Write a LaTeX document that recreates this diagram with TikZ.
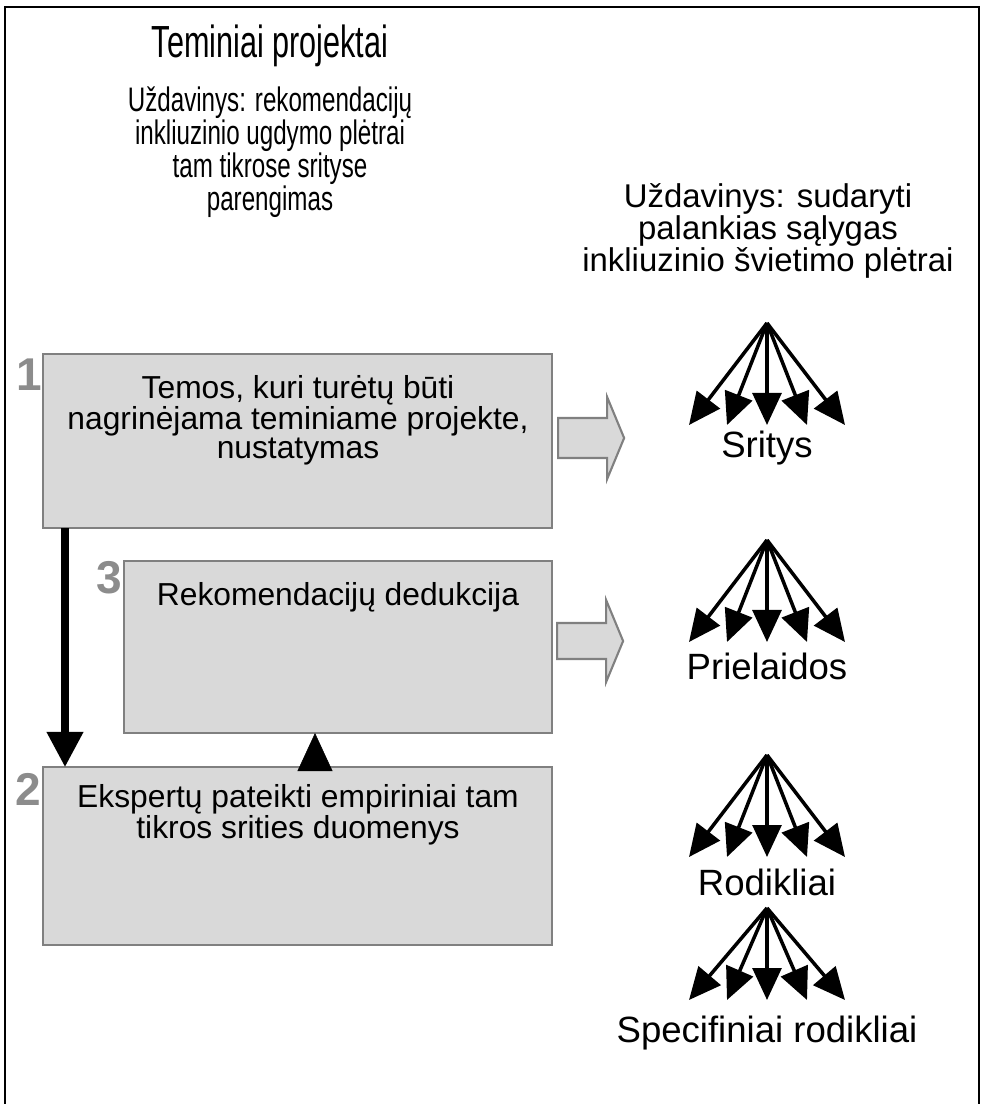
\documentclass[tikz,border=0pt]{standalone}
\usepackage{fontspec}
\setmainfont{Liberation Sans}
\newfontfamily\titlesans{Liberation Sans}[FakeStretch=0.68]
\newfontfamily\narrowsans{Liberation Sans}[FakeStretch=0.71]
\usetikzlibrary{arrows.meta,calc,positioning}

\definecolor{boxfill}{HTML}{D9D9D9}
\definecolor{boxedge}{HTML}{808080}
\definecolor{stepnum}{HTML}{8C8C8C}

\begin{document}
\begin{tikzpicture}[
    x=0.025cm, y=-0.025cm,
    every node/.style={inner sep=0pt, outer sep=0pt},
    stage box/.style={
      draw=boxedge,
      fill=boxfill,
      line width=1.5pt,
      anchor=north west,
      minimum width=12.725cm,
      minimum height=4.35cm,
    },
    stage text/.style={
      align=center,
      font=\fontsize{22.6}{20.6}\selectfont,
    },
    stage number/.style={
      text=stepnum,
      font=\fontsize{32.7}{32.7}\selectfont\bfseries,
    },
    block arrow/.style={
      draw=boxedge,
      fill=boxfill,
      line width=1.5pt,
      line join=miter,
    },
    fan arrow/.style={
      line width=2.5pt,
      -{Triangle[length=0.8cm,width=0.72cm]},
    },
    level label/.style={
      font=\fontsize{26}{26}\selectfont,
    },
  ]
  \useasboundingbox (0,0) rectangle (981,1104);
  \draw[line width=1.5pt] (5,1110) -- (5,7) -- (979,7) -- (979,1110);

  % headings
  \node[font=\titlesans\fontsize{32}{32}\selectfont] (title) at (270,46) {Teminiai projektai};
  \node[align=center, font=\narrowsans\fontsize{24.2}{19.9}\selectfont] (task-left) at (270,152)
    {Uždavinys: rekomendacijų\\inkliuzinio ugdymo plėtrai\\tam tikrose srityse\\parengimas};
  \node[align=center, font=\fontsize{23.4}{19.9}\selectfont] (task-right) at (768,231)
    {Uždavinys: sudaryti\\palankias sąlygas\\inkliuzinio švietimo plėtrai};

  % stages
  \node[stage box] (theme-box) at (43,354) {};
  \node[stage box, minimum width=10.7cm, minimum height=4.3cm] (deduction-box) at (124,561) {};
  \node[stage box, minimum height=4.45cm] (expert-box) at (43,767) {};
  \node[stage text] (theme-text) at (298,420)
    {Temos, kuri turėtų būti\\nagrinėjama teminiame projekte,\\nustatymas};
  \node[stage text] (deduction-text) at (338,597) {Rekomendacijų dedukcija};
  \node[stage text] (expert-text) at (298,815)
    {Ekspertų pateikti empiriniai tam\\tikros srities duomenys};
  \node[stage number] (num-1) at (29,375) {1};
  \node[stage number] (num-3) at (109,578) {3};
  \node[stage number] (num-2) at (28,789) {2};

  \draw[line width=5pt, -{Triangle[length=0.875cm,width=0.875cm]}]
    ($(theme-box.south west)+(22,0)$) -- ($(expert-box.north west)+(22,0)$);
  \draw[line width=0.4pt, -{Triangle[length=0.95cm,width=0.875cm]}]
    ($(expert-box.north west)+(272,0)$) -- ($(deduction-box.south west)+(191,0)$);

  \draw[block arrow] ($(theme-box.east)+(6,-23)$) -- ++(49,0) -- ++(0,-21) -- ++(17,41)
    -- ++(-17,41) -- ++(0,-21) -- ++(-49,0) -- cycle;
  \draw[block arrow] ($(deduction-box.east)+(5,-24)$) -- ++(49,0) -- ++(0,-23) -- ++(17,41)
    -- ++(-17,41) -- ++(0,-23) -- ++(-49,0) -- cycle;

  % fans on the right
  \foreach \i/\ya/\yb/\yl/\name in {1/323/425/448/Sritys, 2/540/642/666/Prielaidos,
                                    3/755/857/882/Rodikliai, 4/908/1000/1033/Specifiniai rodikliai} {
    \coordinate (apex-\i) at (767,\ya);
    \foreach \dx in {-78,-40,0,40,78}
      \draw[fan arrow] (apex-\i) -- (767+\dx,\yb);
    \node[level label] (level-\i) at (767,\yl) {\name};
  }
\end{tikzpicture}
\end{document}
